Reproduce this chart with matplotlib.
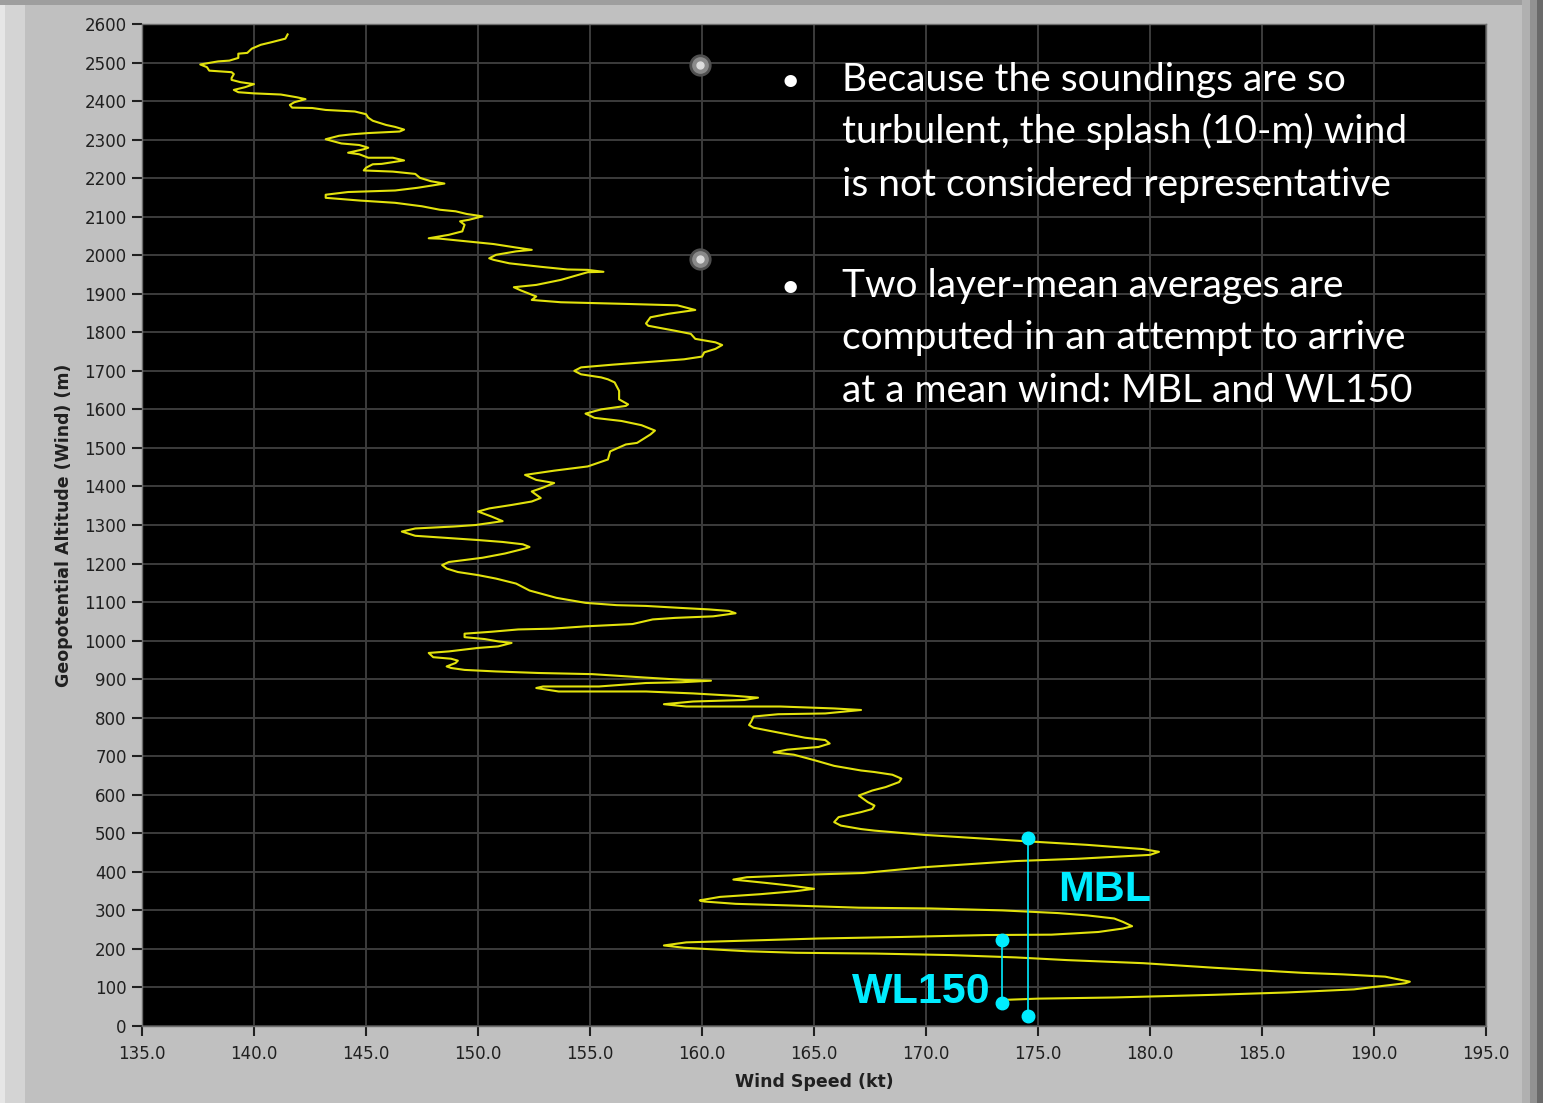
import matplotlib
matplotlib.use("Agg")
import matplotlib.pyplot as plt
from matplotlib.patches import Rectangle

# wind profile (kt) vs geopotential altitude (m), surface upward
wind = [173.6, 175.0, 178.4, 182.9, 186.1, 189.1, 191.4, 191.6, 190.5, 188.6,
        186.8, 182.9, 179.7, 176.3, 174.0, 171.1, 167.7, 164.2, 162.0, 159.2,
        158.3, 159.3, 161.7, 165.2, 168.9, 172.7, 175.6, 177.7, 178.8, 179.2,
        178.8, 178.4, 177.2, 175.9, 173.4, 170.2, 167.0, 163.8, 161.5, 160.1,
        159.9, 160.8, 162.6, 164.2, 165.0, 164.0, 162.9, 161.4, 162.0, 164.9,
        167.2, 169.9, 174.0, 176.8, 180.0, 180.4, 179.7, 177.2, 174.0, 169.9,
        167.7, 167.1, 166.2, 165.9, 166.1, 167.1, 167.6, 167.7, 167.4, 167.0,
        167.6, 168.2, 168.8, 168.9, 168.5, 167.7, 167.1, 165.9, 165.0, 164.1,
        163.2, 163.8, 165.2, 165.7, 165.5, 164.6, 163.8, 162.8, 162.3, 162.1,
        162.2, 162.3, 163.4, 165.5, 167.1, 165.9, 163.5, 159.3, 158.3, 159.6,
        161.9, 162.5, 161.4, 159.6, 157.5, 153.6, 152.6, 152.9, 155.4, 157.5,
        159.1, 160.4, 159.2, 157.5, 155.1, 152.7, 150.8, 149.4, 148.8, 148.6,
        149.0, 149.1, 148.8, 148.0, 147.8, 148.7, 150.0, 150.9, 151.5, 150.9,
        150.3, 149.4, 149.4, 150.6, 151.8, 153.3, 154.8, 156.9, 157.8, 158.8,
        160.5, 161.5, 161.2, 160.3, 159.0, 157.5, 156.2, 154.8, 153.5,
        152.3, 151.7, 150.8, 150.0, 149.1, 148.6, 148.4, 148.7, 150.2, 151.2,
        152.1, 152.3, 152.0, 151.1, 150.0, 149.0, 147.2, 146.6, 147.2, 148.9,
        149.9, 151.1, 150.6, 150.0, 150.5, 151.5, 152.4, 152.8, 152.4, 152.9,
        153.4, 152.6, 152.1, 153.4, 154.9, 155.8, 155.9, 156.6, 157.1, 157.7,
        157.9, 157.3, 156.4, 155.2, 154.8, 155.5, 156.6, 156.7, 156.3, 156.3,
        156.1, 155.8, 155.5, 154.6, 154.3, 154.6, 156.0, 157.4, 159.2, 160.0,
        160.1, 160.6, 160.9, 160.6, 159.7, 159.5, 158.8, 157.6, 157.5, 157.7,
        158.5, 159.7, 158.9, 156.4, 153.7, 152.4, 152.6, 151.9, 151.6,
        152.6, 153.7, 154.9, 155.6, 154.9, 154.0, 152.8, 151.4, 150.7, 150.5,
        150.8, 151.7, 152.4, 151.7, 150.7, 149.5, 148.3, 147.8, 148.7, 149.3,
        149.4, 149.2, 149.6, 150.2, 149.5, 149.0, 148.3, 147.5, 146.3, 144.7,
        143.2, 143.2, 144.2, 146.3, 147.3, 148.5, 147.9, 147.4, 147.2, 146.2,
        144.9, 145.0, 145.3, 145.7, 146.7, 146.2, 145.1, 144.7, 144.2, 144.9,
        145.1, 144.7, 143.9, 143.2, 143.8, 144.4, 145.1, 146.5, 146.7, 146.3,
        145.9, 145.3, 145.1, 145.0, 144.5, 143.2, 142.6, 141.7, 141.6, 141.8,
        142.3, 141.9, 141.2, 140.0, 139.3, 139.1, 139.6, 140.0, 139.4, 139.0,
        139.0, 139.1, 139.0, 138.5, 138.0, 137.9, 137.6, 137.9, 138.4, 138.9,
        139.3, 139.3, 139.7, 139.9, 140.3, 140.8, 141.4, 141.5]
alt = [68, 71, 74, 81, 87, 95, 111, 115, 128, 134,
       138, 151, 163, 171, 178, 184, 188, 190, 194, 203,
       209, 217, 221, 227, 231, 236, 237, 244, 253, 259,
       270, 279, 287, 293, 300, 305, 307, 313, 317, 323,
       326, 335, 342, 350, 356, 364, 371, 380, 386, 393,
       397, 412, 428, 434, 444, 452, 459, 470, 481, 496,
       507, 511, 520, 529, 542, 555, 563, 572, 581, 598,
       611, 620, 633, 642, 652, 659, 663, 675, 690, 704,
       710, 717, 724, 733, 742, 748, 757, 768, 774, 781,
       790, 803, 809, 811, 820, 824, 829, 829, 835, 842,
       846, 852, 857, 863, 868, 868, 877, 881, 881, 890,
       892, 896, 898, 904, 913, 916, 920, 924, 929, 933,
       942, 948, 953, 957, 968, 972, 981, 985, 994, 998,
       1004, 1009, 1018, 1023, 1029, 1031, 1037, 1043, 1055, 1059,
       1063, 1071, 1077, 1081, 1085, 1090, 1092, 1098, 1111,
       1130, 1148, 1161, 1170, 1178, 1187, 1196, 1204, 1215, 1226,
       1239, 1243, 1250, 1256, 1261, 1265, 1272, 1283, 1291, 1296,
       1300, 1310, 1322, 1335, 1343, 1352, 1361, 1370, 1387, 1397,
       1409, 1417, 1430, 1441, 1452, 1470, 1491, 1509, 1513, 1535,
       1545, 1559, 1570, 1578, 1589, 1600, 1609, 1613, 1626, 1648,
       1670, 1678, 1683, 1691, 1700, 1709, 1716, 1722, 1730, 1737,
       1748, 1757, 1767, 1774, 1783, 1796, 1804, 1817, 1823, 1839,
       1848, 1858, 1870, 1874, 1878, 1884, 1893, 1909, 1917,
       1923, 1936, 1956, 1957, 1962, 1963, 1970, 1979, 1988, 1992,
       2001, 2010, 2014, 2020, 2029, 2036, 2043, 2044, 2053, 2062,
       2079, 2088, 2092, 2101, 2107, 2114, 2118, 2127, 2136, 2142,
       2149, 2157, 2164, 2168, 2175, 2186, 2192, 2201, 2211, 2217,
       2220, 2227, 2236, 2237, 2246, 2253, 2253, 2262, 2266, 2275,
       2279, 2286, 2290, 2301, 2310, 2314, 2317, 2321, 2326, 2333,
       2338, 2349, 2357, 2366, 2373, 2377, 2382, 2383, 2390, 2397,
       2405, 2410, 2417, 2420, 2423, 2429, 2436, 2444, 2449, 2455,
       2460, 2470, 2475, 2477, 2479, 2488, 2495, 2498, 2503, 2505,
       2512, 2523, 2525, 2536, 2546, 2553, 2562, 2573]

# layer-mean averaging layers (speed, bottom, top)
mbl_layer = [174.55, 25, 488]
wl150_layer = [173.4, 59, 223]

# cursor markers on the graph
cursor_x = [159.9, 159.9]
cursor_y = [2494, 1990]

x_ticks = [135, 140, 145, 150, 155, 160, 165, 170, 175, 180, 185, 190, 195]
y_ticks = list(range(0, 2700, 100))

bullets = [
    ["Because the soundings are so",
     "turbulent, the splash (10-m) wind",
     "is not considered representative"],
    ["Two layer-mean averages are",
     "computed in an attempt to arrive",
     "at a mean wind: MBL and WL150"],
]

W, H = 1543, 1103
fig = plt.figure(figsize=(W / 100, H / 100), dpi=100, facecolor='#c0c0c0')


def px(x, y):
    return x / W, 1 - y / H


# panel frame shading
def band(x0, y0, x1, y1, color):
    fx0, fy1 = px(x0, y0)
    fx1, fy0 = px(x1, y1)
    fig.add_artist(Rectangle((fx0, fy0), fx1 - fx0, fy1 - fy0,
                             transform=fig.transFigure, facecolor=color,
                             edgecolor='none', zorder=0))


band(0, 0, 25, H, '#d4d4d4')
band(0, 0, 5, H, '#e6e6e6')
band(0, 0, W, 5, '#9e9e9e')
band(1522, 0, W, H, '#b0b0b0')
band(1530, 0, W, H, '#929292')
band(1537, 0, W, H, '#6a6a6a')

l, t = px(142, 24)
r, b = px(1486, 1026)
ax = fig.add_axes([l, b, r - l, t - b])
ax.set_facecolor('black')

ax.plot(wind, alt, color='#e2e20c', lw=1.5, zorder=3)

# cyan layer bars
for lay in [mbl_layer, wl150_layer]:
    ax.plot([lay[0], lay[0]], [lay[1], lay[2]], color='#00ecff', lw=1.2,
            marker='o', ms=9, zorder=4)

# gray sphere cursors
ax.plot(cursor_x, cursor_y, 'o', ms=15, color='#505050', zorder=5)
ax.plot(cursor_x, cursor_y, 'o', ms=11, color='#8a8a8a', zorder=5)
ax.plot(cursor_x, cursor_y, 'o', ms=5, color='#dcdcdc', zorder=5)

ax.set_xlim(135, 195)
ax.set_ylim(0, 2600)
ax.set_xticks(x_ticks)
ax.set_xticklabels(['%.1f' % v for v in x_ticks])
ax.set_yticks(y_ticks)
ax.set_yticklabels([str(v) for v in y_ticks])
ax.grid(True, color='#3c3c3c', lw=1.4)
ax.set_axisbelow(True)
for s in ax.spines.values():
    s.set_color('#6e6e6e')
    s.set_linewidth(1.0)
ax.tick_params(direction='out', length=7, width=1.5, color='#202020',
               labelsize=12, labelcolor='#202020', pad=4)
ax.tick_params(axis='x', pad=7)

ax.set_xlabel('Wind Speed (kt)', fontsize=12.5, fontweight='bold',
              color='#202020', labelpad=7)
ax.set_ylabel('Geopotential Altitude (Wind) (m)', fontsize=12.5,
              fontweight='bold', color='#202020', labelpad=8)

# layer labels
fx, fy = px(1058, 901)
fig.text(fx, fy, 'MBL', color='#00ecff', fontsize=31, fontweight='bold',
         family='Liberation Sans', va='baseline', ha='left')
fx, fy = px(852, 1003)
fig.text(fx, fy, 'WL150', color='#00ecff', fontsize=31, fontweight='bold',
         family='Liberation Sans', va='baseline', ha='left')

# bullet text
starts = [91, 297]
for bl, y0 in zip(bullets, starts):
    fx, fy = px(790, y0)
    fig.text(fx, fy, '\u2022', color='white', fontsize=24, family='Lato',
             ha='center', va='baseline')
    for i, line in enumerate(bl):
        fx, fy = px(842, y0 + i * 52.5)
        fig.text(fx, fy, line, color='white', fontsize=28, family='Lato',
                 ha='left', va='baseline')

fig.savefig('out.png', dpi=100, facecolor=fig.get_facecolor())
